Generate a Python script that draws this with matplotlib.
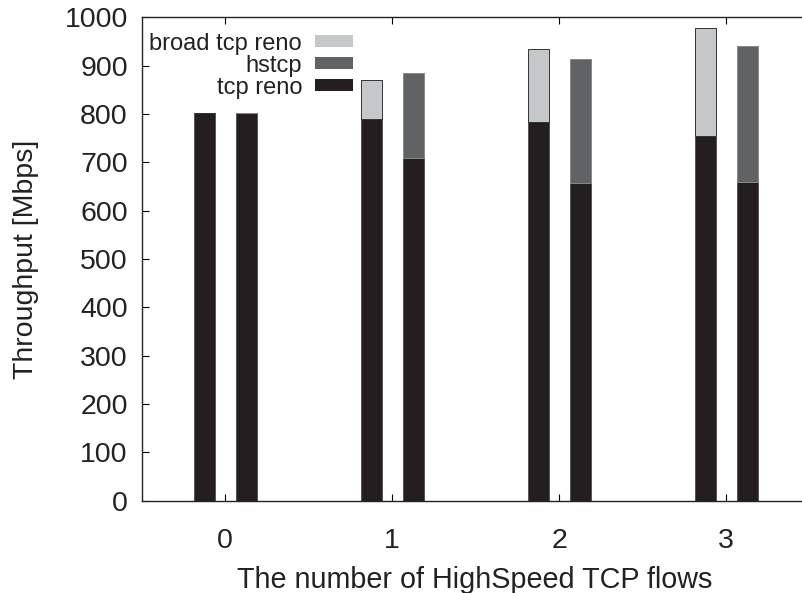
import matplotlib
matplotlib.use("Agg")
import matplotlib.pyplot as plt
import numpy as np

plt.rcParams['font.family'] = ['Liberation Sans', 'DejaVu Sans']

flows = [0, 1, 2, 3]
# left bar: tcp reno (base) + broad tcp reno
left_tcp_reno = [803, 789, 783, 754]
left_broad = [0, 81, 151, 223]
# right bar: tcp reno (base) + hstcp
right_tcp_reno = [803, 709, 657, 659]
right_hstcp = [0, 175, 257, 281]

c_black = '#231f20'
c_dark = '#616264'
c_light = '#c6c7c9'

fig = plt.figure(figsize=(8.02, 5.93), dpi=100)
ax = fig.add_axes([0.1767, 0.1557, 0.833, 0.8151])

x = np.array(flows, dtype=float)
w = 0.126
off = 0.125
ec = '#555555'
lw = 0.7

ax.bar(x - off, left_tcp_reno, w, color=c_black, edgecolor=ec, linewidth=lw, zorder=2)
ax.bar(x - off, left_broad, w, bottom=left_tcp_reno, color=c_light, edgecolor='#333333', linewidth=lw, zorder=2)
ax.bar(x + off, right_tcp_reno, w, color=c_black, edgecolor=ec, linewidth=lw, zorder=2)
ax.bar(x + off, right_hstcp, w, bottom=right_tcp_reno, color=c_dark, edgecolor='#888888', linewidth=lw, zorder=2)

ax.set_xlim(-0.5, 3.5)
ax.set_ylim(0, 1000)
ax.set_xticks(flows)
ax.set_xticklabels([str(f) for f in flows])
ax.set_yticks(np.arange(0, 1001, 100))

ax.tick_params(direction='in', length=5, width=0.8, top=True, right=False,
               labelsize=20.5, colors='black')
ax.tick_params(axis='x', pad=20)
ax.tick_params(axis='y', pad=10)
for t in ax.get_xticklabels() + ax.get_yticklabels():
    t.set_color('#222222')
for s in ax.spines.values():
    s.set_linewidth(1.0)
    s.set_color('#222222')
ax.spines['right'].set_visible(False)

ax.set_xlabel('The number of HighSpeed TCP flows', fontsize=20.7, color='#222222')
ax.set_ylabel('Throughput [Mbps]', fontsize=20.5, color='#222222')
ax.xaxis.set_label_coords(0.498, -0.135)
ax.yaxis.set_label_coords(-0.153, 0.5)

from matplotlib.patches import Patch
handles = [Patch(facecolor=c_light, edgecolor='none'),
           Patch(facecolor=c_dark, edgecolor='none'),
           Patch(facecolor=c_black, edgecolor='none')]
labels = ['broad tcp reno', 'hstcp', 'tcp reno']
leg = ax.legend(handles, labels, loc='upper right', bbox_to_anchor=(0.316, 0.968),
                frameon=False, markerfirst=False, fontsize=17,
                handlelength=1.6, handleheight=0.4, handletextpad=0.55,
                labelspacing=0.0, borderpad=0, borderaxespad=0)
for t in leg.get_texts():
    t.set_color('#222222')

fig.savefig('out.png', dpi=100)
